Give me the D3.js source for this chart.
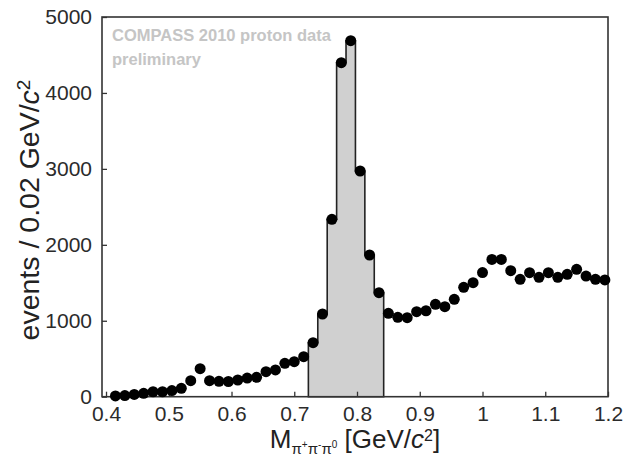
<!DOCTYPE html>
<html>
<head>
<meta charset="utf-8">
<script src="https://cdn.jsdelivr.net/npm/d3@7"></script>
<style>
  html, body { margin: 0; padding: 0; background: #fff; }
  svg { display: block; font-family: "Liberation Sans", Arial, sans-serif; }
</style>
</head>
<body>
<svg id="chart" width="624" height="459"></svg>
<script>
// Bin centres of the 3-pion invariant mass (GeV/c^2)
const masses = [
  0.415, 0.430, 0.445, 0.460, 0.475, 0.490, 0.505, 0.520, 0.535, 0.550,
  0.565, 0.580, 0.595, 0.610, 0.625, 0.640, 0.655, 0.670, 0.685, 0.700,
  0.715, 0.730, 0.745, 0.760, 0.775, 0.790, 0.805, 0.820, 0.835, 0.850,
  0.865, 0.880, 0.895, 0.910, 0.925, 0.940, 0.955, 0.970, 0.985, 1.000,
  1.015, 1.030, 1.045, 1.060, 1.075, 1.090, 1.105, 1.120, 1.135, 1.150,
  1.165, 1.180, 1.195
];
// Event counts per bin
const counts = [
  10, 15, 30, 45, 65, 65, 80, 110, 211, 369,
  211, 203, 200, 220, 246, 255, 329, 352, 440, 461,
  527, 711, 1089, 2336, 4398, 4688, 2972, 1866, 1370, 1098,
  1046, 1040, 1119, 1132, 1217, 1185, 1283, 1441, 1501, 1635,
  1807, 1807, 1659, 1546, 1633, 1572, 1633, 1572, 1612, 1678,
  1589, 1546, 1537
];
// Bins of the omega signal region, drawn as a filled histogram
const signalBins = [21, 22, 23, 24, 25, 26, 27, 28];
const binWidth = 0.015;

const xTicks = [0.4, 0.5, 0.6, 0.7, 0.8, 0.9, 1.0, 1.1, 1.2];
const xTickLabels = ["0.4", "0.5", "0.6", "0.7", "0.8", "0.9", "1", "1.1", "1.2"];
const yTicks = [0, 1000, 2000, 3000, 4000, 5000];

const svg = d3.select("#chart");
const plotLeft = 102, plotRight = 608, plotTop = 17, plotBottom = 396.7;

const x = d3.scaleLinear().domain([0.3936, 1.2]).range([plotLeft, plotRight]);
const y = d3.scaleLinear().domain([0, 5000]).range([plotBottom, plotTop]);

// Filled histogram of the signal region
const edges = [];
signalBins.forEach(i => {
  edges.push([masses[i] - binWidth / 2, counts[i]]);
  edges.push([masses[i] + binWidth / 2, counts[i]]);
});
const first = edges[0][0], last = edges[edges.length - 1][0];
const stepPts = [[first, 0], ...edges, [last, 0]];
svg.append("path")
  .attr("d", d3.line().x(d => x(d[0])).y(d => y(d[1]))(stepPts) + "Z")
  .attr("fill", "#d0d0d0")
  .attr("stroke", "#222")
  .attr("stroke-width", 1.6)
  .attr("stroke-linejoin", "miter");

// Axes with inward ticks
const xAxis = d3.axisBottom(x).tickValues(xTicks)
  .tickFormat((d, i) => xTickLabels[i]).tickSizeInner(-5).tickSizeOuter(0).tickPadding(9);
const gx = svg.append("g").attr("transform", `translate(0,${plotBottom})`).call(xAxis);
const yAxis = d3.axisLeft(y).tickValues(yTicks).tickFormat(d3.format("d"))
  .tickSizeInner(-5).tickSizeOuter(0).tickPadding(10);
const gy = svg.append("g").attr("transform", `translate(${plotLeft},0)`).call(yAxis);
[gx, gy].forEach(g => {
  g.select(".domain").remove();
  g.selectAll(".tick line").attr("stroke", "#333").attr("stroke-width", 1.3);
  g.selectAll(".tick text").attr("fill", "#2b2b2b").style("font-size", "21px")
    .style("font-family", "'Liberation Sans', Arial, sans-serif");
});

// Frame
svg.append("rect")
  .attr("x", plotLeft).attr("y", plotTop)
  .attr("width", plotRight - plotLeft).attr("height", plotBottom - plotTop)
  .attr("fill", "none").attr("stroke", "#333").attr("stroke-width", 1.6);

// Data points
svg.append("g").selectAll("circle")
  .data(masses)
  .join("circle")
  .attr("cx", d => x(d))
  .attr("cy", (d, i) => y(counts[i]))
  .attr("r", 5.5)
  .attr("fill", "#000");

// Experiment label
svg.append("text").attr("x", 112).attr("y", 41)
  .attr("fill", "#c5c5c5").style("font-size", "16.5px").style("font-weight", "bold")
  .text("COMPASS 2010 proton data");
svg.append("text").attr("x", 112).attr("y", 65)
  .attr("fill", "#c5c5c5").style("font-size", "16.5px").style("font-weight", "bold")
  .text("preliminary");

// Y axis title
const yt = svg.append("text")
  .attr("transform", "translate(39,210) rotate(-90)")
  .attr("text-anchor", "middle").attr("fill", "#222").style("font-size", "28.5px");
yt.append("tspan").text("events / 0.02 GeV/");
yt.append("tspan").style("font-style", "italic").text("c");
yt.append("tspan").attr("dy", "-0.45em").style("font-size", "19px").text("2");

// X axis title
const xt = svg.append("text")
  .attr("x", 355).attr("y", 448)
  .attr("text-anchor", "middle").attr("fill", "#222").style("font-size", "26px");
xt.append("tspan").text("M");
xt.append("tspan").attr("dy", "6").style("font-size", "15px").text("\u03c0");
xt.append("tspan").attr("dy", "-6").style("font-size", "10px").text("+");
xt.append("tspan").attr("dy", "6").style("font-size", "15px").text("\u03c0");
xt.append("tspan").attr("dy", "-6").style("font-size", "10px").text("-");
xt.append("tspan").attr("dy", "6").style("font-size", "15px").text("\u03c0");
xt.append("tspan").attr("dy", "-6").style("font-size", "10px").text("0");
xt.append("tspan").attr("dy", "0").text(" [GeV/");
xt.append("tspan").style("font-style", "italic").text("c");
xt.append("tspan").attr("dy", "-7").style("font-size", "16px").text("2");
xt.append("tspan").attr("dy", "7").text("]");
</script>
</body>
</html>
